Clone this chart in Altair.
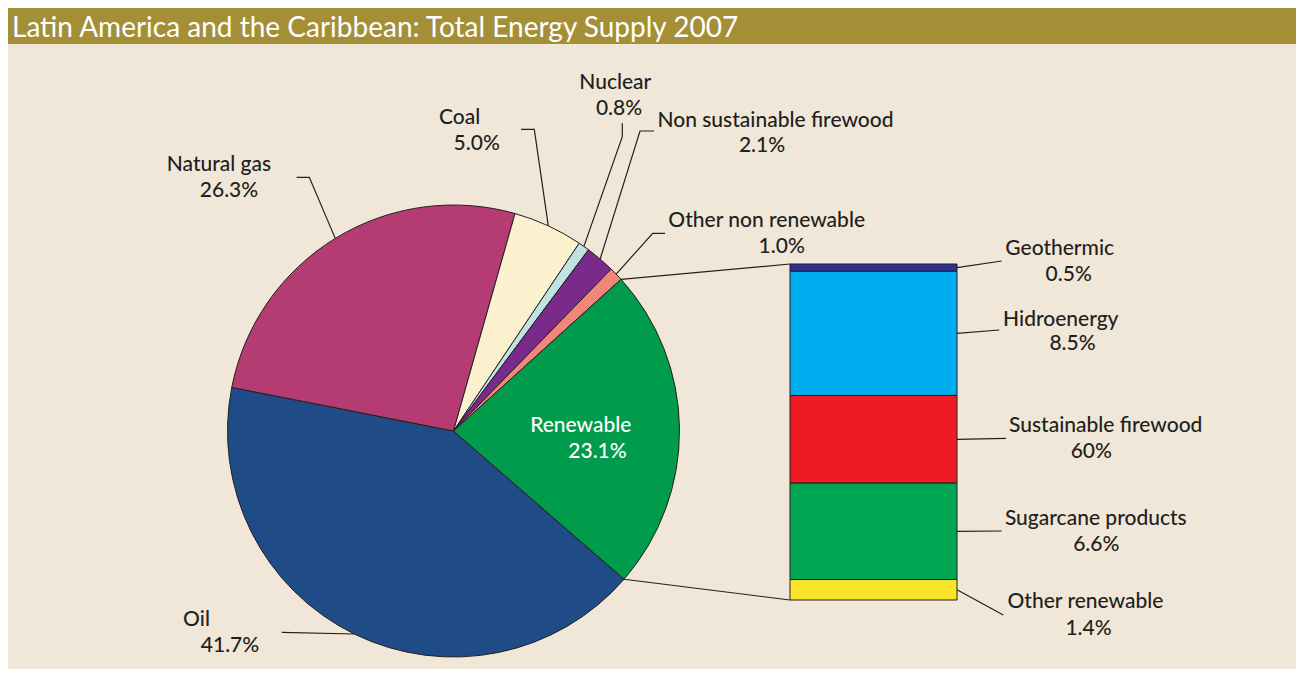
import math
import altair as alt
import pandas as pd

# ---------------- data ----------------
pie_sources = ["Oil", "Natural gas", "Coal", "Nuclear",
               "Non sustainable firewood", "Other non renewable", "Renewable"]
pie_shares = [41.7, 26.3, 5.0, 0.8, 2.1, 1.0, 23.1]
pie_colors = ["#1F4B87", "#B53B73", "#FBF1CF", "#BEE3E2", "#7A2A8B", "#F3867A", "#009B4B"]

renew_sources = ["Geothermic", "Hidroenergy", "Sustainable firewood",
                 "Sugarcane products", "Other renewable"]
renew_shares = [0.5, 8.5, 6.0, 6.6, 1.4]
renew_labels = ["0.5%", "8.5%", "60%", "6.6%", "1.4%"]
renew_colors = ["#2E3192", "#00ADEE", "#ED1C24", "#00A651", "#F9E62C"]

title_text = "Latin America and the Caribbean: Total Energy Supply 2007"

# ---------------- layout (page pixels) ----------------
W, H = 1288, 661
OX, OY = 8, 8
CX, CY, R = 453.5, 431.0, 226.0
START_DEG = 131.0
BAR_X1, BAR_X2, BAR_TOP, BAR_BOT = 790, 957, 264, 600
INK = "#231F20"
BG = "#F1E7D9"
BAND = "#A58F36"
FONT = "Lato"
FS = 21
FW = 500

# label placement: (line1 x, y), (line2 x, y), elbow points
pie_label_pos = {
    "Oil": ((196.5, 626), (230, 651.7), [(281.7, 632.3)]),
    "Natural gas": ((219, 170.7), (229, 197.3), [(296.7, 177.3), (309.3, 177.3)]),
    "Coal": ((459.7, 124), (476.7, 150), [(521, 129.3), (534.3, 129.3)]),
    "Nuclear": ((615.3, 89.3), (619, 115), [(622.3, 123.3), (622.3, 136.7)]),
    "Non sustainable firewood": ((775.5, 126.7), (762, 151.7), [(654, 131), (640, 131)]),
    "Other non renewable": ((766.7, 226.7), (781.7, 252.7), [(665, 233.3), (652.7, 233.3)]),
    "Renewable": ((580.8, 431.7), (597.5, 458.3), None),
}
bar_label_pos = {
    "Geothermic": ((1059.7, 255), (1068.7, 280.7), (1001.7, 261)),
    "Hidroenergy": ((1060.8, 326), (1072.5, 350), (999.3, 330)),
    "Sustainable firewood": ((1105.7, 432.3), (1091.3, 458.3), (1006, 438.3)),
    "Sugarcane products": ((1095.8, 525), (1096.3, 550.7), (1001.7, 531)),
    "Other renewable": ((1085.5, 608.3), (1088.5, 635), (1003.3, 615)),
}

# ---------------- derived geometry ----------------
total_pie = sum(pie_shares)


def on_circle(deg):
    a = math.radians(deg)
    return CX + R * math.sin(a), CY - R * math.cos(a)


bounds = []
acc = START_DEG
for v in pie_shares:
    a0 = acc
    acc += v / total_pie * 360.0
    bounds.append((a0, acc))

total_ren = sum(renew_shares)


def bar_y(val):
    return BAR_BOT - val / total_ren * (BAR_BOT - BAR_TOP)


# bar stacking bottom->top is reverse of listing
bar_mid = {}
cum = 0.0
for name, v in reversed(list(zip(renew_sources, renew_shares))):
    bar_mid[name] = bar_y(cum + v / 2)
    cum += v

# ---------------- tables ----------------
pie_df = pd.DataFrame({
    "source": pie_sources,
    "share": pie_shares,
    "idx": list(range(len(pie_sources))),
})
bar_df = pd.DataFrame({
    "source": renew_sources,
    "share": renew_shares,
    "idx": list(range(len(renew_sources)))[::-1],
})

lines = []
lid = 0
for i, name in enumerate(pie_sources):
    l1, l2, elbow = pie_label_pos[name]
    if elbow is None:
        continue
    a0, a1 = bounds[i]
    pts = list(elbow) + [on_circle((a0 + a1) / 2)]
    for k, (px, py) in enumerate(pts):
        lines.append({"id": lid, "k": k, "px": px, "py": py})
    lid += 1
ren_i = pie_sources.index("Renewable")
for ang, (bx, by) in [(bounds[ren_i][0], (BAR_X1, BAR_TOP)),
                      (bounds[ren_i][1], (BAR_X1, BAR_BOT))]:
    for k, (px, py) in enumerate([on_circle(ang), (bx, by)]):
        lines.append({"id": lid, "k": k, "px": px, "py": py})
    lid += 1
for name in renew_sources:
    l1, l2, end = bar_label_pos[name]
    for k, (px, py) in enumerate([(BAR_X2, bar_mid[name]), end]):
        lines.append({"id": lid, "k": k, "px": px, "py": py})
    lid += 1
lines_df = pd.DataFrame(lines)

texts = []
for name, v in zip(pie_sources, pie_shares):
    l1, l2, _ = pie_label_pos[name]
    col = "#FFFFFF" if name == "Renewable" else INK
    texts.append({"px": l1[0], "py": l1[1], "t": name, "c": col})
    texts.append({"px": l2[0], "py": l2[1], "t": f"{v:.1f}%", "c": col})
for name, lab in zip(renew_sources, renew_labels):
    l1, l2, _ = bar_label_pos[name]
    texts.append({"px": l1[0], "py": l1[1], "t": name, "c": INK})
    texts.append({"px": l2[0], "py": l2[1], "t": lab, "c": INK})
texts_df = pd.DataFrame(texts)

band_df = pd.DataFrame({"x1": [OX], "x2": [OX + W], "y1": [OY], "y2": [44]})
title_df = pd.DataFrame({"px": [12], "py": [37], "t": [title_text]})


# ---------------- scales ----------------
def xs():
    return alt.Scale(domain=[OX, OX + W], nice=False, zero=False)


def ys():
    return alt.Scale(domain=[OY, OY + H], nice=False, zero=False, reverse=True)


band = alt.Chart(band_df).mark_rect(color=BAND).encode(
    x=alt.X("x1:Q", scale=xs(), axis=None), x2="x2:Q",
    y=alt.Y("y1:Q", scale=ys(), axis=None), y2="y2:Q",
)
title = alt.Chart(title_df).mark_text(
    font=FONT, fontSize=28, color="#FFFFFF", align="left", baseline="alphabetic"
).encode(
    x=alt.X("px:Q", scale=xs(), axis=None),
    y=alt.Y("py:Q", scale=ys(), axis=None),
    text="t:N",
)

pie = alt.Chart(pie_df).mark_arc(
    outerRadius=R, stroke=INK, strokeWidth=1
).encode(
    theta=alt.Theta("share:Q", stack=True,
                    scale=alt.Scale(domain=[0, total_pie],
                                    range=[math.radians(START_DEG),
                                           math.radians(START_DEG) + 2 * math.pi])),
    order=alt.Order("idx:Q"),
    color=alt.Color("source:N", scale=alt.Scale(domain=pie_sources, range=pie_colors),
                    legend=None),
    x=alt.value(CX - OX),
    y=alt.value(CY - OY),
)

bar = alt.Chart(bar_df).transform_stack(
    stack="share", groupby=[], as_=["s0", "s1"], sort=[alt.SortField("idx", order="ascending")]
).mark_rect(stroke=INK, strokeWidth=1).encode(
    y=alt.Y("s0:Q", axis=None,
            scale=alt.Scale(domain=[0, total_ren], nice=False,
                            range=[BAR_BOT - OY, BAR_TOP - OY])),
    y2="s1:Q",
    color=alt.Color("source:N", scale=alt.Scale(domain=renew_sources, range=renew_colors),
                    legend=None),
    x=alt.value(BAR_X1 - OX),
    x2=alt.value(BAR_X2 - OX),
)

leaders = alt.Chart(lines_df).mark_line(color=INK, strokeWidth=1.2).encode(
    x=alt.X("px:Q", scale=xs(), axis=None),
    y=alt.Y("py:Q", scale=ys(), axis=None),
    detail="id:N",
    order="k:Q",
)

labels = alt.Chart(texts_df).mark_text(
    font=FONT, fontSize=FS, fontWeight=FW, align="center", baseline="alphabetic"
).encode(
    x=alt.X("px:Q", scale=xs(), axis=None),
    y=alt.Y("py:Q", scale=ys(), axis=None),
    text="t:N",
    color=alt.Color("c:N", scale=None),
)

chart = alt.layer(band, title, pie, leaders, bar, labels).resolve_scale(
    y="independent", color="independent"
).properties(
    width=W, height=H, padding=0, background=BG
).configure_view(stroke=None)

chart.save("out.html", embed_options={"renderer": "svg", "actions": False})
